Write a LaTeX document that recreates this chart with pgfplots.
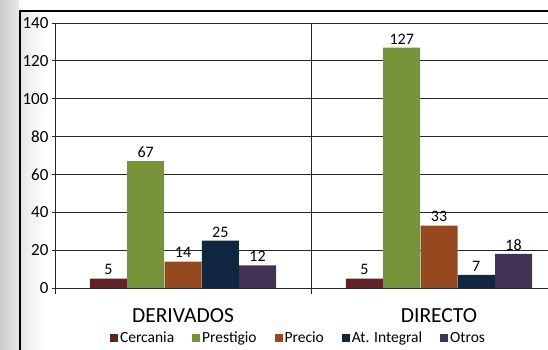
\documentclass[border=0pt]{standalone}
\usepackage{fontspec}
\setmainfont{Carlito}
\usepackage{pgfplots}
\pgfplotsset{compat=1.18}
\definecolor{cCer}{HTML}{602424}
\definecolor{cPre}{HTML}{78943A}
\definecolor{cPrc}{HTML}{96481F}
\definecolor{cAt}{HTML}{112640}
\definecolor{cOt}{HTML}{423253}
\definecolor{gridc}{HTML}{262626}
\pgfplotsset{sqlegend/.style={legend image code/.code={\fill[##1] (0pt,-4pt) rectangle (8pt,4pt);}}}
\begin{document}
\begin{tikzpicture}[x=1pt,y=1pt]
\useasboundingbox (0,0) rectangle (548,349);
\begin{scope}
\clip (0,0) rectangle (548,349);
\fill[white] (0,0) rectangle (548,349);
\shade[left color=black!20, right color=black!9] (0,0) rectangle (19,349);
\shade[left color=black!9, right color=white] (21,0) rectangle (45,338);
\draw[line width=2pt] (20,-5) -- (20,338) -- (560,338);
\begin{axis}[
  at={(55pt,61pt)}, anchor=south west,
  scale only axis, width=493pt, height=265pt,
  xmin=-0.5, xmax=1.4258, ymin=0, ymax=140,
  ybar=0.3pt, bar width=37pt,
  axis x line=bottom, axis y line=left,
  axis line style={-, line width=0.9pt, gridc},
  ytick={0,20,...,140},
  ymajorgrids, grid style={line width=0.9pt, gridc},
  ytick style={line width=0.9pt, gridc},
  major tick length=3pt, tick align=outside,
  xtick={0,1}, xticklabels={DERIVADOS,DIRECTO},
  xtick style={draw=none},
  extra x ticks={-0.5,0.5}, extra x tick labels={},
  extra x tick style={grid=major, xtick style={draw=gridc, line width=0.9pt}, major tick length=6pt},
  x tick label style={font=\fontsize{21.5}{25}\selectfont, yshift=-14pt},
  y tick label style={font=\fontsize{17}{20}\selectfont},
  /pgf/number format/assume math mode=true,
  nodes near coords,
  every node near coord/.append style={font=\fontsize{16}{19}\selectfont, black},
  legend style={at={(0.493,-0.189)}, anchor=center, draw=none, fill=none,
    font=\fontsize{15.5}{18}\selectfont, legend columns=5,
    nodes={inner xsep=1pt},
    /tikz/every odd column/.append style={column sep=1pt},
    /tikz/every even column/.append style={column sep=17pt}},
]
\addplot[fill=cCer, draw=none, sqlegend] coordinates {(0,5) (1,5)};
\addplot[fill=cPre, draw=none, sqlegend] coordinates {(0,67) (1,127)};
\addplot[fill=cPrc, draw=none, sqlegend] coordinates {(0,14) (1,33)};
\addplot[fill=cAt, draw=none, sqlegend] coordinates {(0,25) (1,7)};
\addplot[fill=cOt, draw=none, sqlegend] coordinates {(0,12) (1,18)};
\legend{Cercania, Prestigio, Precio, At. Integral, Otros}
\end{axis}
\end{scope}
\end{tikzpicture}
\end{document}
